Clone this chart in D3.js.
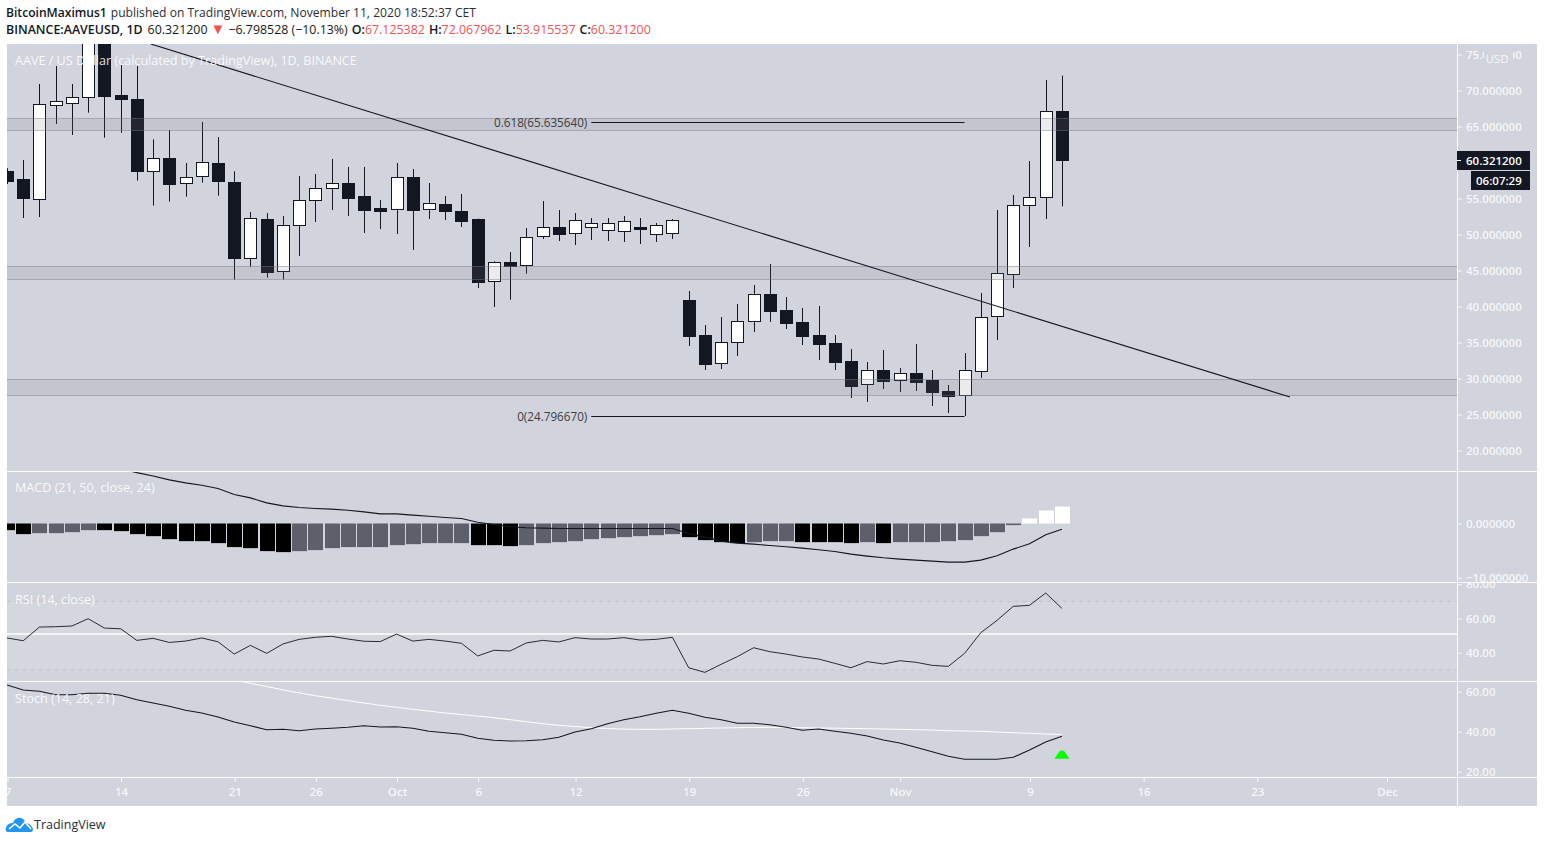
<!DOCTYPE html>
<html>
<head>
<meta charset="utf-8">
<script src="https://cdn.jsdelivr.net/npm/d3@7"></script>
<style>
  body { margin: 0; background: #fff; }
  text { font-family: "Open Sans", "Noto Sans", sans-serif; }
  .domain { display: none; }
</style>
</head>
<body>
<svg></svg>
<script>
// one entry per daily candle, index 0 = Sep 7 2020, last = Nov 11 2020
let opens = [58.82, 57.71, 54.84, 67.89, 68.17, 69.05, 78.5, 69.33, 68.77, 58.77, 60.58, 57.11, 58.08, 59.88, 57.25, 46.69, 52.15, 44.88, 51.23, 54.75, 56.37, 57.15, 55.35, 53.68, 53.45, 57.99, 53.45, 54.24, 53.26, 52.15, 43.5, 46.13, 45.67, 49.7, 51.0, 50.16, 50.95, 50.53, 50.39, 51.04, 49.98, 50.12, 40.9, 36.04, 32.06, 34.98, 37.89, 41.74, 39.51, 37.85, 36.04, 34.93, 32.43, 29.14, 31.13, 29.7, 30.76, 29.79, 28.26, 27.62, 30.95, 38.63, 44.51, 54.1, 55.2, 67.125];
let highs = [59.2, 60.35, 70.9, 73.4, 70.9, 84, 84, 73.68, 73.4, 63.22, 64.51, 59.93, 65.63, 63.54, 58.77, 53.13, 52.99, 52.57, 58.13, 58.4, 60.49, 59.38, 59.38, 54.79, 59.93, 59.1, 57.15, 55.35, 55.63, 52.2, 46.27, 47.57, 50.9, 54.65, 53.4, 52.99, 52.29, 52.29, 52.57, 52.29, 51.6, 52.15, 42.15, 37.43, 38.54, 40.35, 42.99, 45.9, 41.32, 39.79, 40.07, 36.04, 34.1, 32.29, 33.96, 31.46, 34.79, 31.18, 29.1, 33.54, 41.88, 53.4, 55.49, 60.21, 71.46, 72.068];
let lows = [57.0, 52.29, 52.43, 65.35, 63.82, 66.92, 63.45, 64.14, 57.48, 54.01, 54.57, 55.26, 57.2, 55.39, 43.73, 45.53, 44.01, 43.73, 47.01, 51.74, 53.4, 52.57, 50.21, 50.76, 50.07, 47.85, 52.15, 52.01, 51.04, 42.57, 39.93, 40.95, 44.56, 49.38, 49.1, 48.54, 49.24, 49.1, 48.96, 48.68, 48.96, 49.38, 34.51, 31.18, 31.32, 33.13, 36.46, 37.85, 36.88, 34.65, 32.57, 31.18, 27.29, 26.74, 28.54, 28.13, 28.26, 26.18, 25.21, 24.8, 30.07, 35.35, 42.57, 48.26, 52.15, 53.916];
let closes = [57.43, 55.07, 68.08, 68.5, 69.05, 78.5, 69.14, 68.73, 58.73, 60.58, 56.92, 57.94, 60.02, 57.34, 46.64, 52.25, 44.84, 51.27, 54.75, 56.41, 57.11, 55.07, 53.4, 53.26, 57.94, 53.4, 54.33, 53.26, 51.88, 43.4, 46.13, 45.63, 49.61, 51.0, 49.98, 51.97, 51.55, 51.55, 51.83, 50.76, 51.27, 51.97, 35.9, 32.01, 35.02, 37.94, 41.69, 39.38, 37.71, 35.9, 34.79, 32.29, 28.96, 31.13, 29.65, 30.72, 29.51, 28.13, 27.57, 31.13, 38.5, 44.61, 54.1, 55.2, 67.15, 60.321];

let macdHist = [-1.22, -1.95, -1.77, -1.77, -1.59, -1.22, -1.22, -1.4, -1.95, -2.32, -2.87, -3.24, -3.24, -3.6, -4.33, -4.52, -5.07, -5.25, -5.07, -4.88, -4.52, -4.33, -4.33, -4.33, -3.97, -3.79, -3.6, -3.6, -3.6, -3.97, -3.97, -4.15, -3.97, -3.6, -3.42, -3.24, -2.87, -2.69, -2.5, -2.32, -2.14, -1.95, -2.5, -3.05, -3.42, -3.6, -3.42, -3.24, -3.24, -3.42, -3.42, -3.42, -3.6, -3.42, -3.6, -3.42, -3.42, -3.42, -3.24, -3.05, -2.32, -1.59, -0.3, 0.92, 2.38, 3.11];
// f = falling, r = rising while negative, u = above zero
let macdState = ['f', 'f', 'r', 'r', 'r', 'r', 'f', 'f', 'f', 'f', 'f', 'f', 'f', 'f', 'f', 'f', 'f', 'f', 'r', 'r', 'r', 'r', 'r', 'r', 'r', 'r', 'r', 'r', 'r', 'f', 'f', 'f', 'r', 'r', 'r', 'r', 'r', 'r', 'r', 'r', 'r', 'r', 'f', 'f', 'f', 'f', 'r', 'r', 'r', 'f', 'f', 'f', 'f', 'r', 'f', 'r', 'r', 'r', 'r', 'r', 'r', 'r', 'r', 'u', 'u', 'u'];
// starts at index 7, before that the line is above the pane
let macdLine = [10.07, 9.34, 8.73, 8.0, 7.45, 7.02, 6.41, 5.31, 4.7, 3.79, 3.24, 2.93, 2.75, 2.63, 2.44, 2.14, 1.77, 1.77, 1.53, 1.34, 1.1, 0.92, 0.24, -0.18, -0.61, -0.79, -0.85, -0.92, -0.92, -0.92, -0.92, -0.92, -0.92, -0.92, -0.92, -1.83, -2.5, -3.24, -3.6, -3.79, -4.03, -4.27, -4.52, -4.82, -5.13, -5.62, -5.98, -6.29, -6.53, -6.72, -6.9, -7.08, -7.08, -6.72, -5.92, -4.7, -3.72, -2.08, -1.04];

let rsi = [48.6, 47.0, 55.0, 55.2, 55.6, 59.9, 54.4, 54.0, 47.2, 48.4, 46.0, 46.8, 48.6, 46.4, 39.2, 44.3, 39.6, 45.1, 47.8, 49.0, 49.6, 48.0, 46.7, 46.5, 50.9, 46.8, 47.8, 46.8, 45.5, 38.1, 41.4, 41.0, 45.7, 47.2, 46.3, 48.8, 48.0, 48.0, 48.8, 47.4, 47.8, 49.0, 31.2, 28.5, 33.2, 37.7, 42.9, 40.6, 39.2, 37.5, 36.3, 33.8, 31.2, 34.8, 33.4, 35.3, 34.4, 32.6, 32.0, 39.6, 51.7, 58.9, 67.1, 67.7, 74.9, 65.9];

let stochK = [63.35, 60.85, 60.2, 58.5, 58.5, 59.2, 59.2, 58.2, 56.0, 54.35, 52.7, 50.7, 49.35, 47.35, 44.85, 43.0, 41.0, 41.2, 40.5, 41.35, 41.7, 42.2, 43.0, 42.35, 42.5, 41.7, 40.2, 39.5, 38.7, 36.7, 35.7, 35.35, 35.5, 36.0, 37.2, 39.85, 41.5, 44.0, 46.0, 47.5, 49.2, 50.7, 49.2, 47.2, 46.0, 44.2, 44.2, 43.5, 42.2, 40.7, 41.35, 40.2, 39.2, 37.85, 35.85, 34.35, 32.2, 30.0, 27.7, 26.2, 26.2, 26.2, 27.2, 30.85, 34.85, 37.7];
// starts at index 14, before that the line is above the pane
let stochD = [66.0, 64.2, 62.6, 60.9, 59.4, 58.0, 56.8, 55.5, 54.35, 53.2, 52.2, 51.2, 50.3, 49.35, 48.6, 47.8, 47.0, 46.0, 45.0, 44.0, 43.2, 42.6, 42.0, 41.6, 41.3, 41.2, 41.2, 41.35, 41.5, 41.7, 41.85, 42.0, 42.1, 42.2, 42.1, 42.0, 41.85, 41.75, 41.65, 41.5, 41.35, 41.2, 41.0, 40.85, 40.5, 40.35, 40.2, 39.85, 39.5, 39.2, 38.85, 38.6];

let zones = [[66.1, 64.45], [45.6, 43.75], [29.9, 27.6]];
let trendIdx = [8.86, 79.05];
let trendPrice = [76.46, 27.43];
let fibLevels = [
  { ratio: '0.618', price: 65.63564 },
  { ratio: '0', price: 24.79667 },
];
let fibIdx = [36, 59];

let priceTicks = [75, 70, 65, 60, 55, 50, 45, 40, 35, 30, 25, 20];
let macdTicks = [0, -10];
let rsiTicks = [80, 60, 40];
let stochTicks = [60, 40, 20];
let dayTicks = [0, 7, 14, 19, 24, 29, 35, 42, 49, 55, 63, 70, 77, 85];
let dayLabels = ['7', '14', '21', '26', 'Oct', '6', '12', '19', '26', 'Nov', '9', '16', '23', 'Dec'];
let lastPriceLabel = '60.321200';
let countdownLabel = '06:07:29';

let width = 1544;
let height = 843;
let plotLeft = 7;
let plotRight = 1457;
let chartRight = 1537;
let plotTop = 44;
let mainBottom = 471;
let macdBottom = 582;
let rsiBottom = 681;
let stochBottom = 777;
let chartBottom = 806;

let ink = '#131722';
let bg = '#d1d4dc';
let axisText = 'rgba(255,255,255,0.82)';

let svg = d3.select('svg').attr('width', width).attr('height', height);

svg.append('rect').attr('x', plotLeft).attr('y', plotTop)
  .attr('width', chartRight - plotLeft).attr('height', chartBottom - plotTop).attr('fill', bg);

let defs = svg.append('defs');
function clip(id, y0, y1, x0, x1) {
  defs.append('clipPath').attr('id', id).append('rect')
    .attr('x', x0).attr('y', y0).attr('width', x1 - x0).attr('height', y1 - y0);
}
clip('mainClip', plotTop, mainBottom, plotLeft, plotRight);
clip('macdClip', mainBottom, macdBottom, plotLeft, plotRight);
clip('rsiClip', macdBottom, rsiBottom, plotLeft, plotRight);
clip('stochClip', rsiBottom, stochBottom, plotLeft, plotRight);
clip('mainAxisClip', plotTop, mainBottom, plotRight, chartRight);
clip('macdAxisClip', mainBottom, macdBottom, plotRight, chartRight);
clip('rsiAxisClip', macdBottom, rsiBottom, plotRight, chartRight);
clip('stochAxisClip', rsiBottom, stochBottom, plotRight, chartRight);
clip('timeClip', stochBottom, chartBottom, plotLeft, plotRight);

let x = d3.scaleLinear().domain([0, 85]).range([7, 1386.55]);
let yPrice = d3.scaleLinear().domain([70, 20]).range([90.5, 450.5]);
let yMacd = d3.scaleLinear().domain([0, -10]).range([523.5, 578]);
let yRsi = d3.scaleLinear().domain([60, 40]).range([618.5, 652.7]);
let yStoch = d3.scaleLinear().domain([60, 20]).range([691.7, 771.7]);

let px = (i) => Math.round(x(i));

// candles
let main = svg.append('g').attr('clip-path', 'url(#mainClip)');
let candles = main.selectAll('g').data(opens.map((o, i) => i)).enter().append('g');

candles.append('line')
  .attr('x1', (i) => px(i) + 0.5).attr('x2', (i) => px(i) + 0.5)
  .attr('y1', (i) => yPrice(highs[i])).attr('y2', (i) => yPrice(lows[i]))
  .attr('stroke', ink);

candles.append('rect')
  .attr('x', (i) => px(i) - 5.5)
  .attr('width', 12)
  .attr('y', (i) => Math.round(yPrice(Math.max(opens[i], closes[i]))) + 0.5)
  .attr('height', (i) => Math.max(1, Math.round(Math.abs(yPrice(opens[i]) - yPrice(closes[i])))))
  .attr('fill', (i) => (closes[i] > opens[i] ? '#fff' : ink))
  .attr('stroke', ink);

// support and resistance zones sit over the candles
zones.forEach((z) => {
  main.append('rect')
    .attr('x', plotLeft).attr('width', plotRight - plotLeft)
    .attr('y', yPrice(z[0])).attr('height', yPrice(z[1]) - yPrice(z[0]))
    .attr('fill', 'rgba(120,123,134,0.15)');
  z.forEach((p) => {
    let zy = Math.floor(yPrice(p)) + 0.5;
    main.append('line')
      .attr('x1', plotLeft).attr('x2', plotRight)
      .attr('y1', zy).attr('y2', zy)
      .attr('stroke', 'rgba(120,123,134,0.45)');
  });
});

main.append('line')
  .attr('x1', x(trendIdx[0])).attr('y1', yPrice(trendPrice[0]))
  .attr('x2', x(trendIdx[1])).attr('y2', yPrice(trendPrice[1]))
  .attr('stroke', ink).attr('stroke-width', 1.1);

fibLevels.forEach((f) => {
  let fy = Math.round(yPrice(f.price)) + 0.5;
  main.append('line')
    .attr('x1', x(fibIdx[0])).attr('x2', x(fibIdx[1]))
    .attr('y1', fy).attr('y2', fy)
    .attr('stroke', ink);
  main.append('text')
    .attr('x', x(fibIdx[0]) - 4).attr('y', fy + 4)
    .attr('text-anchor', 'end').attr('font-size', 11.7)
    .attr('fill', '#3d3f45')
    .text(`${f.ratio}(${f.price.toFixed(6)})`);
});

// MACD
let macd = svg.append('g').attr('clip-path', 'url(#macdClip)');
let histColor = { f: '#000', r: '#5d606b', u: '#fff' };
macd.selectAll('rect').data(macdHist).enter().append('rect')
  .attr('x', (d, i) => px(i) - 7)
  .attr('width', 15)
  .attr('y', (d) => Math.min(yMacd(d), yMacd(0)))
  .attr('height', (d) => Math.abs(yMacd(d) - yMacd(0)))
  .attr('fill', (d, i) => histColor[macdState[i]]);

let lineFrom = (first, yScale) => d3.line().x((d, i) => x(i + first)).y((d) => yScale(d));

macd.append('path')
  .attr('d', lineFrom(7, yMacd)(macdLine))
  .attr('fill', 'none').attr('stroke', ink).attr('stroke-width', 1.1);

// RSI
let rsiGroup = svg.append('g').attr('clip-path', 'url(#rsiClip)');
rsiGroup.append('rect')
  .attr('x', plotLeft).attr('width', plotRight - plotLeft)
  .attr('y', yRsi(70)).attr('height', yRsi(30) - yRsi(70))
  .attr('fill', 'rgba(255,255,255,0.07)');
[70, 30].forEach((level) => {
  rsiGroup.append('line')
    .attr('x1', plotLeft).attr('x2', plotRight)
    .attr('y1', yRsi(level)).attr('y2', yRsi(level))
    .attr('stroke', '#c6c6c0').attr('stroke-dasharray', '4,4');
});
rsiGroup.append('line')
  .attr('x1', plotLeft).attr('x2', plotRight)
  .attr('y1', yRsi(51)).attr('y2', yRsi(51))
  .attr('stroke', '#f4f5f7').attr('stroke-width', 2);
rsiGroup.append('path')
  .attr('d', lineFrom(0, yRsi)(rsi))
  .attr('fill', 'none').attr('stroke', ink).attr('stroke-width', 0.9);

// Stoch
let stoch = svg.append('g').attr('clip-path', 'url(#stochClip)');
stoch.append('path')
  .attr('d', lineFrom(14, yStoch)(stochD))
  .attr('fill', 'none').attr('stroke', '#fff').attr('stroke-width', 1);
stoch.append('path')
  .attr('d', lineFrom(0, yStoch)(stochK))
  .attr('fill', 'none').attr('stroke', ink).attr('stroke-width', 1.1);

let lastIdx = opens.length - 1;
stoch.append('path')
  .attr('d', d3.line()([
    [x(lastIdx) - 7.5, yStoch(26.5)],
    [x(lastIdx) - 2, yStoch(30.5)],
    [x(lastIdx) + 2, yStoch(30.5)],
    [x(lastIdx) + 7.5, yStoch(26.5)],
  ]) + 'Z')
  .attr('fill', '#00ff00');

// pane separators
[mainBottom, macdBottom, rsiBottom, stochBottom].forEach((sy) => {
  svg.append('line')
    .attr('x1', plotLeft).attr('x2', chartRight)
    .attr('y1', sy + 0.5).attr('y2', sy + 0.5)
    .attr('stroke', '#fff').attr('stroke-opacity', 0.9);
});
svg.append('line')
  .attr('x1', plotRight + 0.5).attr('x2', plotRight + 0.5)
  .attr('y1', plotTop).attr('y2', chartBottom)
  .attr('stroke', '#fff').attr('stroke-opacity', 0.9);

// right axes
function styleAxis(g) {
  g.selectAll('line').attr('stroke', '#fff').attr('stroke-opacity', 0.9);
  g.selectAll('text')
    .attr('font-size', 11.5).attr('font-weight', 600)
    .attr('fill', axisText);
}
function rightAxis(scale, ticks, digits, clipId) {
  let g = svg.append('g').attr('clip-path', `url(#${clipId})`)
    .append('g').attr('transform', `translate(${plotRight + 0.5},0)`);
  g.call(
    d3.axisRight(scale)
      .tickValues(ticks)
      .tickSize(4)
      .tickPadding(4.5)
      .tickFormat((d) => d3.format(`.${digits}f`)(d).replace('-', '\u2212'))
  );
  styleAxis(g);
}
rightAxis(yPrice, priceTicks, 6, 'mainAxisClip');
rightAxis(yMacd, macdTicks, 6, 'macdAxisClip');
rightAxis(yRsi, rsiTicks, 2, 'rsiAxisClip');
rightAxis(yStoch, stochTicks, 2, 'stochAxisClip');

// currency tag covers part of the top label
svg.append('rect').attr('x', 1484).attr('y', 45).attr('width', 29).attr('height', 20).attr('fill', bg);
svg.append('text').attr('x', 1497).attr('y', 63)
  .attr('text-anchor', 'middle').attr('font-size', 11.5)
  .attr('fill', axisText).text('USD');

// last price and countdown
svg.append('rect').attr('x', plotRight).attr('y', 151).attr('width', 73).attr('height', 19).attr('fill', ink);
svg.append('line').attr('x1', plotRight).attr('x2', plotRight + 4)
  .attr('y1', 160.5).attr('y2', 160.5).attr('stroke', '#fff');
svg.append('text').attr('x', 1466).attr('y', 165)
  .attr('font-size', 11.5).attr('font-weight', 600).attr('fill', '#fff').text(lastPriceLabel);
svg.append('rect').attr('x', 1471).attr('y', 171).attr('width', 59).attr('height', 19).attr('fill', ink);
svg.append('text').attr('x', 1476).attr('y', 185)
  .attr('font-size', 11.5).attr('font-weight', 600).attr('fill', '#fff').text(countdownLabel);

// time axis
let timeAxis = svg.append('g').attr('clip-path', 'url(#timeClip)')
  .append('g').attr('transform', `translate(0.5,${stochBottom + 0.5})`);
timeAxis.call(
  d3.axisBottom(x)
    .tickValues(dayTicks)
    .tickSize(4)
    .tickPadding(6.5)
    .tickFormat((d, i) => dayLabels[i])
);
styleAxis(timeAxis);

// pane titles
let paneTitles = [
  ['AAVE / US Dollar (calculated by TradingView), 1D, BINANCE', 65],
  ['MACD (21, 50, close, 24)', 492],
  ['RSI (14, close)', 604],
  ['Stoch (14, 28, 21)', 703],
];
paneTitles.forEach((t) => {
  svg.append('text').attr('x', 15).attr('y', t[1])
    .attr('font-size', 12.6).attr('fill', 'rgba(255,255,255,0.88)').text(t[0]);
});

// header
let head1 = svg.append('text').attr('x', 6).attr('y', 17).attr('font-size', 12.1).attr('fill', ink);
head1.append('tspan').attr('font-weight', 600).text('BitcoinMaximus1');
head1.append('tspan').attr('dx', 4).attr('fill', '#2a2e39')
  .text('published on TradingView.com, November 11, 2020 18:52:37 CET');

let red = '#ef5350';
let head2 = svg.append('text').attr('x', 6).attr('y', 34).attr('font-size', 12.4).attr('fill', ink);
head2.append('tspan').attr('font-weight', 600).text('BINANCE:AAVEUSD, 1D');
head2.append('tspan').attr('dx', 5).text('60.321200');
head2.append('tspan').attr('dx', 3).attr('fill', red).attr('font-size', 15).text('\u25BC');
head2.append('tspan').attr('dx', 3).text('\u22126.798528 (\u221210.13%)');
[['O:', '67.125382'], ['H:', '72.067962'], ['L:', '53.915537'], ['C:', '60.321200']].forEach((p) => {
  head2.append('tspan').attr('dx', 4).attr('font-weight', 600).text(p[0]);
  head2.append('tspan').attr('fill', red).text(p[1]);
});

// logo
let logo = svg.append('g').attr('transform', 'translate(6,817)');
logo.append('path')
  .attr('d', 'M0 11 C1 7 4 6 7 6 C8 2 12 0 15 1 C18 2 19 4 20 6 C23 6 26 9 27 12 C27 14 26 15 25 15 L2 15 C0 15 -1 13 0 11 Z')
  .attr('fill', '#2196f3');
logo.append('path')
  .attr('d', 'M3 12 L9 7 L14 11 L19 5 L25 12')
  .attr('fill', 'none').attr('stroke', '#fff').attr('stroke-width', 1.6);
svg.append('text').attr('x', 34).attr('y', 829)
  .attr('font-size', 12.5).attr('fill', '#2a2e39').text('TradingView');
</script>
</body>
</html>
